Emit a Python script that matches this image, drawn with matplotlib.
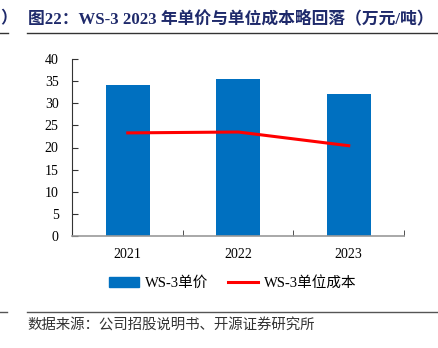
import matplotlib
matplotlib.use("Agg")
import matplotlib.pyplot as plt
from matplotlib.lines import Line2D

plt.rcParams['font.family'] = ['Liberation Serif', 'Noto Sans CJK SC']

years = ['2021', '2022', '2023']
price = [34.1, 35.5, 32.0]      # WS-3单价
cost = [23.3, 23.5, 20.4]       # WS-3单位成本
yticks = [0, 5, 10, 15, 20, 25, 30, 35, 40]

fig = plt.figure(figsize=(4.39, 3.48), dpi=100)
W, H = 439, 348

ax = fig.add_axes([72.5 / W, 1 - 236 / H, 331.5 / W, 177 / H])
x = list(range(len(years)))
ax.bar(x, price, width=0.4, color='#0070C0', zorder=2)
ax.plot(x, cost, color='#FF0000', lw=2.2, zorder=3)

ax.set_xlim(-0.5, 2.5)
ax.set_ylim(0, 40)
ax.set_yticks(yticks)
ax.set_xticks(x)
ax.set_xticklabels(years)
ax.set_xticks([-0.5, 0.5, 1.5, 2.5], minor=True)
ax.tick_params(axis='x', which='major', length=0, pad=9, labelsize=10)
ax.tick_params(axis='x', which='minor', direction='in', length=4, color='#333333')
ax.tick_params(axis='y', direction='in', length=4, labelsize=10, pad=10, color='#333333')
for s in ['top', 'right']:
    ax.spines[s].set_visible(False)
ax.spines['left'].set_color('#333333')
ax.spines['bottom'].set_color('#999999')
ax.spines['bottom'].set_linewidth(1.2)

# legend
handles = [plt.Rectangle((0, 0), 1, 1, color='#0070C0'),
           Line2D([0], [0], color='#FF0000', lw=2.2)]
fig.legend(handles, ['WS-3单价', 'WS-3单位成本'], loc='center left',
           bbox_to_anchor=(103 / W, 1 - 283 / H), ncol=2, frameon=False,
           fontsize=10.5, handlelength=2.1, columnspacing=1.3, handletextpad=0.4,
           borderaxespad=0)

# header
fig.text(28 / W, 1 - 19 / H, '图22：WS-3 2023 年单价与单位成本略回落（万元/吨）',
         fontsize=12.1, fontweight='bold', color='#1F2A6B', va='center', ha='left')
fig.text(0, 1 - 19 / H, '）', fontsize=12, fontweight='bold', color='#1F2A6B',
         va='center', ha='left')
fig.add_artist(Line2D([27 / W, 1], [1 - 33 / H] * 2, color='#333333', lw=1))
fig.add_artist(Line2D([0, 8 / W], [1 - 33 / H] * 2, color='#333333', lw=1))

# footer
fig.add_artist(Line2D([27 / W, 437 / W], [1 - 312 / H] * 2, color='#555555', lw=1))
fig.add_artist(Line2D([0, 7 / W], [1 - 312 / H] * 2, color='#555555', lw=1))
fig.text(27 / W, 1 - 325 / H, '数据来源：公司招股说明书、开源证券研究所',
         fontsize=10.4, color='#333333', va='center', ha='left')

fig.savefig('out.png', dpi=100)
